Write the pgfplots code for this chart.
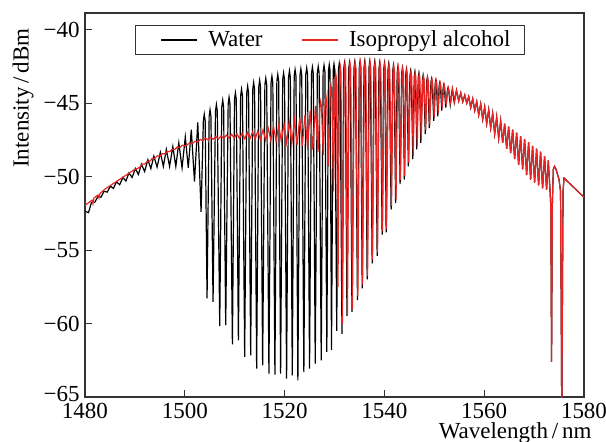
\documentclass[border=0pt]{standalone}
\usepackage{fontspec}
\setmainfont{Liberation Serif}
\usepackage{pgfplots}
\pgfplotsset{compat=1.18}
\definecolor{ipa}{RGB}{232,36,36}
\newcommand\fsz{\fontsize{11.5}{13.8}\selectfont}
\begin{document}
\begin{tikzpicture}
\useasboundingbox (-42.5pt,-22pt) rectangle (260.5pt,198.5pt);
\begin{axis}[
  scale only axis, width=249.5pt, height=192pt,
  xmin=1480, xmax=1580, ymin=-65, ymax=-38.86,
  xtick={1480,1500,1520,1540,1560,1580},
  xticklabels={1480,1500,1520,1540,1560,1580},
  ytick={-65,-60,-55,-50,-45,-40},
  yticklabels={\raisebox{3pt}{−65},−60,−55,−50,−45,−40},
  tick pos=left, tick align=inside, major tick length=3.5pt,
  minor tick num=0,
  axis line style={line width=0.65pt, black!80},
  every tick/.style={black!80, line width=0.6pt},
  tick label style={font=\fsz},
  xticklabel style={inner sep=0pt, yshift=-3pt},
  yticklabel style={inner sep=0pt, xshift=-2.5pt},
  label style={font=\fsz},
  xlabel={Wavelength\,/\,nm},
  ylabel={Intensity\,/\,dBm},
  xlabel style={at={(axis description cs:0.862,-0.0925)}, anchor=center, inner sep=0pt},
  ylabel style={at={(axis description cs:-0.1242,0.7786)}, anchor=center, inner sep=0pt},
  legend columns=2,
  legend image code/.code={\node[inner sep=0pt, minimum width=11pt, minimum height=0.5pt, anchor=east, draw=none, fill=none] at (0pt,0pt) {}; \draw[#1] (0pt,0pt) -- (18pt,0pt);},
  legend style={font=\fsz, at={(0.1,0.969)}, anchor=north west, draw=black!80, line width=0.6pt,
    inner xsep=1.5pt, inner ysep=1pt, nodes={inner ysep=1.5pt, inner xsep=5.3pt},
    /tikz/every even column/.append style={column sep=3pt}},
  clip=true,
]
\addplot[black, line width=0.6pt] coordinates {
(1480.0,-52.35) (1480.7,-52.45) (1481.3,-51.75) (1481.95,-51.75) (1482.6,-51.35) (1483.2,-51.4) (1483.8,-51.0) (1484.45,-51.05) (1485.1,-50.65) (1485.7,-50.8) (1486.3,-50.35) (1486.95,-50.55) (1487.6,-50.05) (1488.2,-50.3) (1488.8,-49.75) (1489.45,-50.05) (1490.1,-49.45) (1490.7,-49.85) (1491.3,-49.15) (1491.95,-49.65) (1492.6,-48.85) (1493.2,-49.45) (1493.8,-48.6) (1494.45,-49.35) (1495.1,-48.35) (1495.7,-49.3) (1496.3,-48.15) (1496.95,-49.3) (1497.6,-47.95) (1498.2,-49.3) (1498.8,-47.7) (1499.45,-49.4) (1500.1,-47.3) (1500.7,-49.4) (1501.3,-46.8) (1501.94,-50.34) (1502.6,-46.3) (1503.26,-52.39)
(1503.72,-46.2) (1503.9,-45.75) (1504.08,-46.2) (1504.46,-58.29)
(1504.88,-45.9) (1505.06,-45.45) (1505.24,-45.9) (1505.66,-58.52)
(1506.15,-45.55) (1506.33,-45.1) (1506.51,-45.55) (1507.0,-60.18)
(1507.42,-45.25) (1507.6,-44.8) (1507.78,-45.25) (1508.2,-60.11)
(1508.69,-45.05) (1508.87,-44.6) (1509.05,-45.05) (1509.54,-61.41)
(1509.96,-44.75) (1510.14,-44.3) (1510.32,-44.75) (1510.74,-61.14)
(1511.19,-44.5) (1511.37,-44.05) (1511.55,-44.5) (1512.0,-62.27)
(1512.42,-44.3) (1512.6,-43.85) (1512.78,-44.3) (1513.2,-62.16)
(1513.62,-44.05) (1513.8,-43.6) (1513.98,-44.05) (1514.4,-63.07)
(1514.82,-43.9) (1515.0,-43.45) (1515.18,-43.9) (1515.6,-62.84)
(1516.05,-43.75) (1516.23,-43.3) (1516.41,-43.75) (1516.86,-63.41)
(1517.28,-43.62) (1517.46,-43.17) (1517.64,-43.62) (1518.06,-63.47)
(1518.45,-43.5) (1518.63,-43.05) (1518.81,-43.5) (1519.2,-63.41)
(1519.62,-43.4) (1519.8,-42.95) (1519.98,-43.4) (1520.4,-63.75)
(1520.79,-43.25) (1520.97,-42.8) (1521.15,-43.25) (1521.54,-63.52)
(1521.92,-43.17) (1522.1,-42.72) (1522.28,-43.17) (1522.66,-63.86)
(1523.08,-43.11) (1523.26,-42.66) (1523.44,-43.11) (1523.86,-63.3)
(1524.25,-43.05) (1524.43,-42.6) (1524.61,-43.05) (1525.0,-63.07)
(1525.39,-43.0) (1525.57,-42.55) (1525.75,-43.0) (1526.14,-62.72)
(1526.56,-42.95) (1526.74,-42.5) (1526.92,-42.95) (1527.34,-62.5)
(1527.72,-42.87) (1527.9,-42.42) (1528.08,-42.87) (1528.46,-61.93)
(1528.79,-42.8) (1528.95,-42.38) (1529.11,-42.8) (1529.4,-61.8)
(1529.74,-42.75) (1529.9,-42.33) (1530.06,-42.75) (1530.45,-60.5)
(1530.79,-42.72) (1530.95,-42.3) (1531.11,-42.72) (1531.5,-60.7)
(1531.84,-42.69) (1532.0,-42.27) (1532.16,-42.69) (1532.5,-59.5)
(1532.84,-42.67) (1533.0,-42.25) (1533.16,-42.67) (1533.5,-59.2)
(1533.89,-42.64) (1534.05,-42.22) (1534.21,-42.64) (1534.6,-58.4)
(1534.96,-42.6) (1535.1,-42.2) (1535.24,-42.6) (1535.55,-57.6)
(1535.91,-42.6) (1536.05,-42.2) (1536.19,-42.6) (1536.55,-57.0)
(1536.91,-42.6) (1537.05,-42.2) (1537.19,-42.6) (1537.55,-55.9)
(1537.91,-42.62) (1538.05,-42.22) (1538.19,-42.62) (1538.55,-55.4)
(1538.91,-42.67) (1539.05,-42.27) (1539.19,-42.67) (1539.55,-53.95)
(1539.86,-42.72) (1540.0,-42.32) (1540.12,-42.72) (1540.35,-53.8)
(1540.71,-42.77) (1540.85,-42.37) (1540.99,-42.77) (1541.35,-52.25)
(1541.66,-42.85) (1541.8,-42.45) (1541.94,-42.85) (1542.25,-51.8)
(1542.56,-42.95) (1542.7,-42.55) (1542.84,-42.95) (1543.15,-50.5)
(1543.46,-43.0) (1543.6,-42.63) (1543.74,-43.0) (1544.0,-50.2)
(1544.28,-43.05) (1544.4,-42.72) (1544.52,-43.05) (1544.8,-49.3)
(1545.12,-43.15) (1545.25,-42.83) (1545.38,-43.15) (1545.7,-48.8)
(1545.98,-43.22) (1546.1,-42.92) (1546.22,-43.22) (1546.5,-48.15)
(1546.78,-43.28) (1546.9,-43.0) (1547.02,-43.28) (1547.3,-47.7)
(1547.63,-43.38) (1547.75,-43.12) (1547.87,-43.38) (1548.2,-47.1)
(1548.48,-43.5) (1548.6,-43.25) (1548.72,-43.5) (1549.0,-46.7)
(1549.33,-43.58) (1549.45,-43.35) (1549.57,-43.58) (1549.9,-46.2)
(1550.18,-43.67) (1550.3,-43.45) (1550.42,-43.67) (1550.7,-45.9)
(1550.98,-43.8) (1551.1,-43.6) (1551.22,-43.8) (1551.5,-45.5)
(1551.78,-43.95) (1551.9,-43.75) (1552.02,-43.95) (1552.3,-45.3)
(1552.63,-44.12) (1552.75,-43.95) (1552.87,-44.12) (1553.2,-45.1)
(1553.6,-44.05) (1554.0,-44.95)
(1554.45,-44.12) (1554.9,-44.85) (1555.3,-44.3) (1555.7,-44.9) (1556.1,-44.45) (1556.5,-45.0) (1556.9,-44.55) (1557.3,-45.3) (1557.7,-44.7) (1558.1,-45.5) (1558.5,-44.9) (1558.9,-45.8) (1559.3,-45.05) (1559.7,-46.1) (1560.1,-45.25) (1560.5,-46.4) (1560.9,-45.45) (1561.3,-46.7) (1561.7,-45.7) (1562.1,-47.1) (1562.5,-45.95) (1562.9,-47.4) (1563.3,-46.2) (1563.7,-47.7) (1564.1,-46.4) (1564.5,-48.1) (1564.9,-46.6) (1565.3,-48.4) (1565.7,-46.8) (1566.1,-48.8) (1566.5,-47.0) (1566.9,-49.2) (1567.3,-47.25) (1567.7,-49.5) (1568.1,-47.45) (1568.5,-49.9) (1568.9,-47.65) (1569.3,-50.2) (1569.7,-47.9) (1570.1,-50.4) (1570.5,-48.1) (1570.9,-50.6) (1571.3,-48.3) (1571.7,-50.8) (1572.1,-48.6) (1572.5,-50.9) (1572.85,-48.9) (1573.2,-51.0) (1573.35,-52.0) (1573.5,-62.6) (1573.65,-52.0) (1573.85,-49.5) (1574.1,-49.3) (1574.4,-49.5) (1575.0,-50.2) (1575.3,-51.0) (1575.45,-60.0) (1575.55,-67.0) (1575.65,-60.0) (1575.8,-51.0) (1576.0,-50.1) (1580.0,-51.4)
};
\addlegendentry{Water}
\addplot[ipa, line width=0.6pt] coordinates {
(1480.0,-51.95) (1480.6,-51.8) (1481.0,-51.7) (1481.4,-51.6) (1481.6,-51.85) (1481.8,-51.45) (1482.6,-51.25) (1482.8,-51.45) (1483.0,-51.15) (1484.0,-50.85) (1485.0,-50.62) (1486.0,-50.4) (1487.0,-50.17) (1488.0,-49.95) (1489.0,-49.72) (1490.0,-49.5) (1490.5,-49.45) (1491.0,-49.35) (1491.5,-49.15) (1492.0,-49.14) (1492.5,-48.95) (1493.0,-48.95) (1493.5,-48.75) (1494.0,-48.75) (1494.5,-48.58) (1495.0,-48.6) (1495.5,-48.43) (1496.0,-48.45) (1496.5,-48.28) (1497.0,-48.3) (1497.5,-48.13) (1498.0,-48.15) (1498.5,-47.98) (1499.0,-48.02) (1499.5,-47.86) (1500.0,-47.9)
(1500.45,-47.85) (1500.98,-47.70) (1501.5,-47.76) (1502.03,-47.59) (1502.55,-47.66) (1503.08,-47.47) (1503.6,-47.56) (1504.13,-47.37) (1504.65,-47.50) (1505.18,-47.32) (1505.7,-47.46) (1506.23,-47.26) (1506.75,-47.44) (1507.28,-47.22) (1507.8,-47.40) (1508.33,-47.17) (1508.85,-47.37) (1509.38,-47.12) (1509.9,-47.38) (1510.43,-47.08) (1510.95,-47.40) (1511.48,-47.05) (1512.0,-47.42) (1512.53,-47.0) (1513.05,-47.43) (1513.58,-46.96) (1514.1,-47.45) (1514.63,-46.89) (1515.15,-47.48) (1515.68,-46.80) (1516.2,-47.52) (1516.73,-46.71) (1517.25,-47.54) (1517.78,-46.61) (1518.3,-47.57) (1518.83,-46.52) (1519.35,-47.61) (1519.88,-46.40) (1520.4,-47.68) (1520.93,-46.27) (1521.45,-47.76) (1521.98,-46.13) (1522.5,-47.84) (1523.03,-45.99) (1523.55,-47.91) (1524.08,-45.81) (1524.6,-48.04) (1525.13,-45.5) (1525.65,-48.16) (1526.18,-45.2) (1526.7,-48.31)
(1527.08,-45.2) (1527.23,-44.87) (1527.38,-45.2) (1527.75,-48.51)
(1528.13,-44.9) (1528.28,-44.5) (1528.43,-44.9) (1528.8,-49.2)
(1529.15,-44.2) (1529.3,-43.8) (1529.45,-44.2) (1529.8,-51.0)
(1530.1,-43.4) (1530.25,-43.0) (1530.4,-43.4) (1530.7,-57.5)
(1531.0,-42.9) (1531.15,-42.5) (1531.3,-42.9) (1531.6,-60.0)
(1531.95,-42.65) (1532.1,-42.25) (1532.25,-42.65) (1532.6,-59.3)
(1532.95,-42.65) (1533.1,-42.25) (1533.25,-42.65) (1533.6,-59.0)
(1533.97,-42.64) (1534.13,-42.22) (1534.29,-42.64) (1534.68,-58.15)
(1535.04,-42.6) (1535.18,-42.2) (1535.32,-42.6) (1535.63,-57.35)
(1535.99,-42.6) (1536.13,-42.2) (1536.27,-42.6) (1536.63,-56.75)
(1536.99,-42.6) (1537.13,-42.2) (1537.27,-42.6) (1537.63,-55.65)
(1537.99,-42.62) (1538.13,-42.22) (1538.27,-42.62) (1538.63,-55.15)
(1538.99,-42.67) (1539.13,-42.27) (1539.27,-42.67) (1539.63,-53.7)
(1539.94,-42.72) (1540.08,-42.32) (1540.2,-42.72) (1540.43,-53.55)
(1540.79,-42.77) (1540.93,-42.37) (1541.07,-42.77) (1541.43,-52.0)
(1541.74,-42.85) (1541.88,-42.45) (1542.02,-42.85) (1542.33,-51.55)
(1542.64,-42.95) (1542.78,-42.55) (1542.92,-42.95) (1543.23,-50.25)
(1543.54,-43.0) (1543.68,-42.63) (1543.82,-43.0) (1544.08,-49.95)
(1544.36,-43.05) (1544.48,-42.72) (1544.6,-43.05) (1544.88,-49.05)
(1545.2,-43.15) (1545.33,-42.83) (1545.46,-43.15) (1545.78,-48.55)
(1546.06,-43.22) (1546.18,-42.92) (1546.3,-43.22) (1546.58,-47.9)
(1546.86,-43.28) (1546.98,-43.0) (1547.1,-43.28) (1547.38,-47.45)
(1547.71,-43.38) (1547.83,-43.12) (1547.95,-43.38) (1548.28,-46.85)
(1548.56,-43.5) (1548.68,-43.25) (1548.8,-43.5) (1549.08,-46.45)
(1549.41,-43.58) (1549.53,-43.35) (1549.65,-43.58) (1549.98,-45.95)
(1550.26,-43.67) (1550.38,-43.45) (1550.5,-43.67) (1550.78,-45.65)
(1551.06,-43.8) (1551.18,-43.6) (1551.3,-43.8) (1551.58,-45.3)
(1551.86,-43.95) (1551.98,-43.75) (1552.1,-43.95) (1552.38,-45.1)
(1552.71,-44.12) (1552.83,-43.95) (1552.95,-44.12) (1553.28,-44.95)
(1553.68,-44.05) (1554.08,-44.85)
(1554.45,-44.12) (1554.9,-44.85) (1555.3,-44.3) (1555.7,-44.9) (1556.1,-44.45) (1556.5,-45.0) (1556.9,-44.55) (1557.3,-45.3) (1557.7,-44.7) (1558.1,-45.5) (1558.5,-44.9) (1558.9,-45.8) (1559.3,-45.05) (1559.7,-46.1) (1560.1,-45.25) (1560.5,-46.4) (1560.9,-45.45) (1561.3,-46.7) (1561.7,-45.7) (1562.1,-47.1) (1562.5,-45.95) (1562.9,-47.4) (1563.3,-46.2) (1563.7,-47.7) (1564.1,-46.4) (1564.5,-48.1) (1564.9,-46.6) (1565.3,-48.4) (1565.7,-46.8) (1566.1,-48.8) (1566.5,-47.0) (1566.9,-49.2) (1567.3,-47.25) (1567.7,-49.5) (1568.1,-47.45) (1568.5,-49.9) (1568.9,-47.65) (1569.3,-50.2) (1569.7,-47.9) (1570.1,-50.4) (1570.5,-48.1) (1570.9,-50.6) (1571.3,-48.3) (1571.7,-50.8) (1572.1,-48.6) (1572.5,-50.9) (1572.85,-48.9) (1573.2,-51.0) (1573.35,-52.0) (1573.5,-62.6) (1573.65,-52.0) (1573.85,-49.5) (1574.1,-49.3) (1574.4,-49.5) (1575.0,-50.2) (1575.3,-51.0) (1575.45,-60.0) (1575.55,-67.0) (1575.65,-60.0) (1575.8,-51.0) (1576.0,-50.1) (1580.0,-51.4)
};
\addlegendentry{Isopropyl alcohol}
\end{axis}
\end{tikzpicture}
\end{document}
